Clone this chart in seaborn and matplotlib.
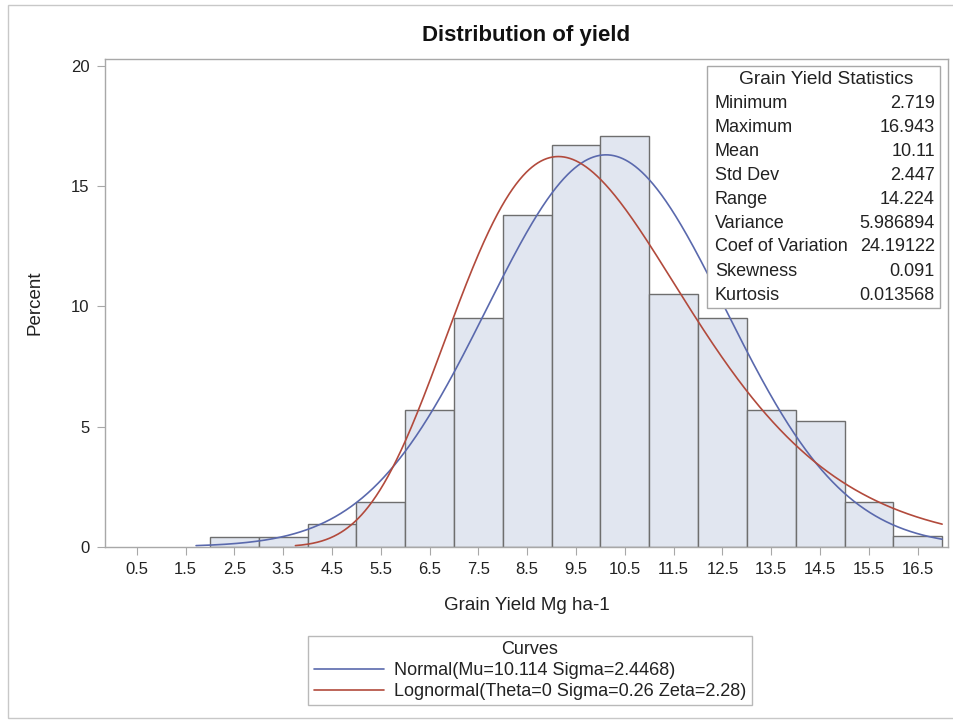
import numpy as np
import pandas as pd
import matplotlib
matplotlib.use("Agg")
import matplotlib.pyplot as plt
from matplotlib.patches import Rectangle
from matplotlib.lines import Line2D
import seaborn as sns

# ---------------- data ----------------
bin_edges = list(range(2, 18))                       # 2..17, width 1
bin_mids = [2.5, 3.5, 4.5, 5.5, 6.5, 7.5, 8.5, 9.5, 10.5, 11.5, 12.5, 13.5, 14.5, 15.5, 16.5]
percents = [0.42, 0.42, 0.95, 1.88, 5.7, 9.5, 13.8, 16.7, 17.1, 10.5, 9.5, 5.68, 5.24, 1.88, 0.43]

x_ticks = [0.5, 1.5, 2.5, 3.5, 4.5, 5.5, 6.5, 7.5, 8.5, 9.5, 10.5, 11.5, 12.5, 13.5, 14.5, 15.5, 16.5]
y_ticks = [0, 5, 10, 15, 20]

normal_mu = 10.114
normal_sigma = 2.4468
logn_theta = 0.0
logn_sigma = 0.26
logn_zeta = 2.28

stat_labels = ["Minimum", "Maximum", "Mean", "Std Dev", "Range", "Variance",
               "Coef of Variation", "Skewness", "Kurtosis"]
stat_values = ["2.719", "16.943", "10.11", "2.447", "14.224", "5.986894",
               "24.19122", "0.091", "0.013568"]

curve_labels = ["Normal(Mu=10.114 Sigma=2.4468)",
                "Lognormal(Theta=0 Sigma=0.26 Zeta=2.28)"]

# ---------------- style ----------------
sns.set_style("ticks")
plt.rcParams["font.family"] = ["Liberation Sans", "DejaVu Sans"]

W, H = 954, 722
fig = plt.figure(figsize=(W / 100, H / 100), dpi=100)

def fx(px):
    return px / W

def fy(py):
    return 1 - py / H

ax_l, ax_r, ax_t, ax_b = 105, 948, 59.3, 546.7
ax = fig.add_axes([fx(ax_l), fy(ax_b), fx(ax_r) - fx(ax_l), fy(ax_t) - fy(ax_b)])

bar_fill = "#E1E6F0"
bar_edge = "#6E6E6E"
blue = "#5A69AD"
red = "#B24A3C"
frame_grey = "#A8A8A8"

df = pd.DataFrame({"mid": bin_mids, "pct": percents})
sns.histplot(data=df, x="mid", weights="pct", bins=bin_edges, ax=ax,
             color=bar_fill, edgecolor=bar_edge, linewidth=1.0, alpha=1.0)

# fitted curves (percent per unit bin width)
xg = np.linspace(0.05, 17.0, 1700)
norm_y = 100 * np.exp(-0.5 * ((xg - normal_mu) / normal_sigma) ** 2) / (normal_sigma * np.sqrt(2 * np.pi))
xl = xg - logn_theta
logn_y = 100 * np.exp(-0.5 * ((np.log(xl) - logn_zeta) / logn_sigma) ** 2) / (xl * logn_sigma * np.sqrt(2 * np.pi))
thr = 0.045
nm = (norm_y >= thr) | (xg > normal_mu)
lm = (logn_y >= thr) | (xg > np.exp(logn_zeta))
sns.lineplot(x=xg[nm], y=norm_y[nm], ax=ax, color=blue, linewidth=1.2, sort=False)
sns.lineplot(x=xg[lm], y=logn_y[lm], ax=ax, color=red, linewidth=1.2, sort=False)

ax.set_xlim(-0.15, 17.12)
ax.set_ylim(0, 20.28)
ax.set_xticks(x_ticks)
ax.set_xticklabels([f"{t:.1f}" for t in x_ticks])
ax.set_yticks(y_ticks)
ax.set_yticklabels([str(t) for t in y_ticks])
ax.tick_params(axis="both", direction="out", length=6, width=0.8, color=frame_grey,
               labelsize=12, labelcolor="#222222", pad=5)
ax.set_xlabel("")
ax.set_ylabel("")
for s in ax.spines.values():
    s.set_color(frame_grey)
    s.set_linewidth(1.0)
    s.set_visible(True)

# titles / labels
fig.text(fx(526.5), fy(35), "Distribution of yield", ha="center", va="center",
         fontsize=16, fontweight="bold", color="#111111")
fig.text(fx(526.5), fy(605), "Grain Yield Mg ha-1", ha="center", va="center",
         fontsize=13.5, color="#222222")
fig.text(fx(35), fy(303), "Percent", ha="center", va="center", rotation=90,
         fontsize=13.5, color="#222222")

# statistics inset
bx0, bx1, by0, by1 = 707, 940, 66, 308
fig.patches.append(Rectangle((fx(bx0), fy(by1)), fx(bx1) - fx(bx0), fy(by0) - fy(by1),
                             transform=fig.transFigure, facecolor="white",
                             edgecolor=frame_grey, linewidth=1.0, zorder=5))
fig.text(fx(826.5), fy(80), "Grain Yield Statistics", ha="center", va="center",
         fontsize=13.8, color="#222222", zorder=6)
for i, (lab, val) in enumerate(zip(stat_labels, stat_values)):
    yy = 103 + 24 * i
    fig.text(fx(715), fy(yy), lab, ha="left", va="center", fontsize=13, color="#222222", zorder=6)
    fig.text(fx(935), fy(yy), val, ha="right", va="center", fontsize=13, color="#222222", zorder=6)

# legend
handles = [Line2D([], [], color=blue, linewidth=1.2),
           Line2D([], [], color=red, linewidth=1.2)]
leg = fig.legend(handles, curve_labels, title="Curves", loc="center",
                 bbox_to_anchor=(fx(530), fy(670.5)), fontsize=13, title_fontsize=13,
                 frameon=True, fancybox=False, edgecolor=frame_grey,
                 handlelength=3.9, handletextpad=0.55, labelspacing=0.22,
                 borderpad=0.3, borderaxespad=0)
leg.get_frame().set_linewidth(1.0)
for t in leg.get_texts():
    t.set_color("#222222")
leg.get_title().set_color("#222222")

# outer border
fig.patches.append(Rectangle((fx(8), fy(718)), fx(960) - fx(8), fy(5) - fy(718),
                             transform=fig.transFigure, facecolor="none",
                             edgecolor="#C8C8C8", linewidth=1.0, zorder=0))

fig.savefig("out.png", dpi=100)
